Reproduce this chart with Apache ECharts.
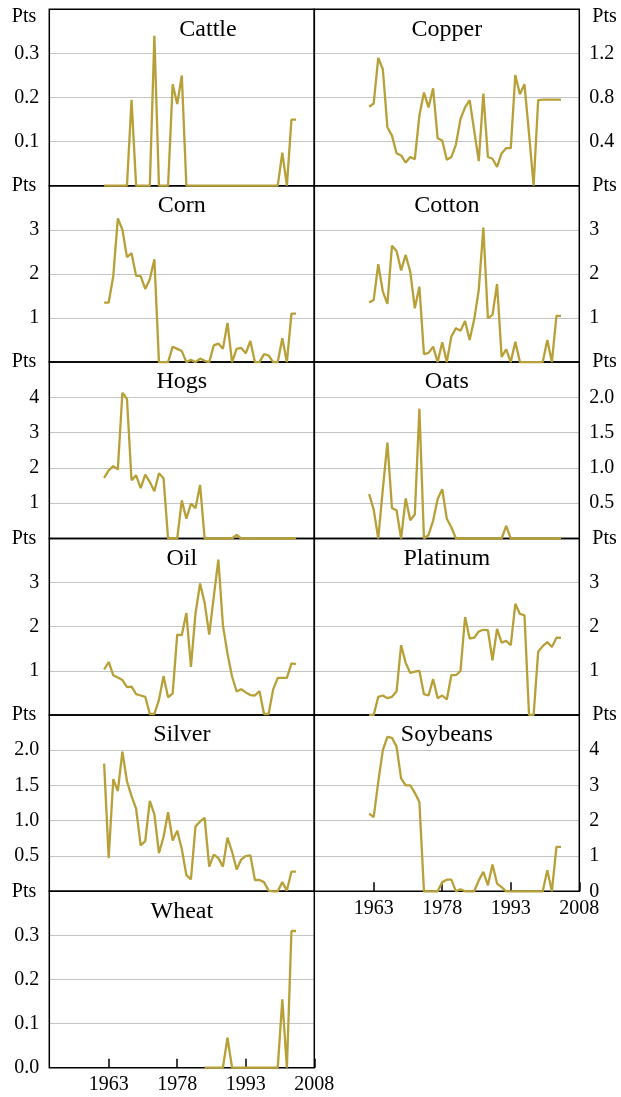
<!DOCTYPE html>
<html><head><meta charset="utf-8">
<script src="https://cdn.jsdelivr.net/npm/echarts@6/dist/echarts.min.js"></script>
<style>html,body{margin:0;padding:0;background:#fff}#c{width:621px;height:1097px}</style>
</head><body><div id="c"></div>
<script>
// ---- data ----
const years = [1962,1963,1964,1965,1966,1967,1968,1969,1970,1971,1972,1973,1974,1975,1976,1977,1978,1979,1980,1981,1982,1983,1984,1985,1986,1987,1988,1989,1990,1991,1992,1993,1994,1995,1996,1997,1998,1999,2000,2001,2002,2003,2004];
const xTicks = [1963, 1978, 1993, 2008];
const names = ['Cattle','Copper','Corn','Cotton','Hogs','Oats','Oil','Platinum','Silver','Soybeans','Wheat'];

const cattle = [0,0,0,0,0,0,0.195,0,0,0,0,0.34,0,0,0,0.23,0.185,0.25,0,0,0,0,0,0,0,0,0,0,0,0,0,0,0,0,0,0,0,0,0,0.075,0,0.15,0.15];
const copper = [0.716,0.746,1.16,1.056,0.53,0.454,0.295,0.274,0.21,0.26,0.24,0.635,0.845,0.71,0.884,0.43,0.41,0.235,0.26,0.373,0.605,0.71,0.776,0.5,0.223,0.836,0.26,0.244,0.17,0.295,0.34,0.34,1.005,0.83,0.92,0.47,0,0.776,0.78,0.78,0.78,0.78,0.78];
const corn = [1.35,1.35,1.95,3.26,3.0,2.38,2.47,1.96,1.95,1.66,1.88,2.33,0,0,0,0.35,0.3,0.25,0,0.05,0,0.08,0.03,0,0.38,0.42,0.3,0.89,0,0.3,0.32,0.2,0.48,0,0,0.18,0.15,0,0,0.54,0,1.1,1.1];
const cotton = [1.35,1.41,2.22,1.6,1.32,2.64,2.52,2.08,2.43,2.05,1.22,1.71,0.18,0.21,0.35,0,0.45,0,0.58,0.77,0.71,0.93,0.5,0.97,1.64,3.05,0.99,1.07,1.77,0.12,0.29,0,0.46,0,0,0,0,0,0,0.5,0,1.05,1.05];
const hogs = [1.72,1.93,2.05,1.96,4.13,3.95,1.65,1.79,1.43,1.81,1.6,1.34,1.85,1.71,0,0,0,1.08,0.56,0.99,0.86,1.52,0,0,0,0,0,0,0,0.1,0,0,0,0,0,0,0,0,0,0,0,0,0];
const oats = [0.63,0.41,0,0.7,1.36,0.43,0.4,0,0.57,0.26,0.34,1.84,0,0.05,0.25,0.56,0.7,0.28,0.16,0,0,0,0,0,0,0,0,0,0,0,0.18,0,0,0,0,0,0,0,0,0,0,0,0];
const oil = [1.03,1.2,0.9,0.85,0.79,0.63,0.64,0.47,0.44,0.41,0.02,0.02,0.34,0.88,0.4,0.49,1.82,1.81,2.31,1.09,2.3,2.98,2.54,1.82,2.68,3.52,2.03,1.39,0.87,0.53,0.58,0.51,0.45,0.44,0.54,0.02,0.02,0.58,0.84,0.84,0.84,1.17,1.15];
const platinum = [0,0,0.41,0.44,0.38,0.41,0.53,1.58,1.18,0.95,0.98,1.0,0.47,0.44,0.81,0.38,0.44,0.35,0.9,0.9,1.0,2.22,1.73,1.75,1.89,1.93,1.92,1.24,1.95,1.64,1.68,1.58,2.52,2.29,2.26,0,0,1.43,1.56,1.65,1.54,1.75,1.75];
const silver = [1.81,0.47,1.59,1.42,1.98,1.56,1.35,1.17,0.65,0.71,1.28,1.09,0.54,0.77,1.12,0.72,0.86,0.6,0.23,0.17,0.92,0.99,1.04,0.35,0.52,0.47,0.35,0.76,0.56,0.31,0.45,0.5,0.51,0.16,0.16,0.13,0.01,0,0,0.13,0.01,0.28,0.28];
const soybeans = [2.2,2.1,3.1,4.0,4.38,4.35,4.1,3.2,3.0,3.0,2.79,2.53,0,0,0,0,0.26,0.33,0.33,0,0.06,0,0,0,0.31,0.55,0.17,0.76,0.22,0.12,0,0,0,0,0,0,0,0,0,0.6,0,1.26,1.26];
const wheat = [null,null,null,null,null,null,null,null,null,null,null,null,null,null,null,null,null,null,null,null,null,null,0,0,0,0,0,0.068,0,0,0,0,0,0,0,0,0,0,0,0.155,0,0.31,0.31];

const seriesValues = [cattle, copper, corn, cotton, hogs, oats, oil, platinum, silver, soybeans, wheat];
const yMax = [0.4, 1.6, 4, 4, 5, 2.5, 4, 4, 2.5, 5, 0.4];
const yStep = [0.1, 0.4, 1, 1, 1, 0.5, 1, 1, 0.5, 1, 0.1];
const yDecimals = [1, 1, 0, 0, 0, 1, 0, 0, 1, 0, 1];

// ---- layout ----
const FONT = 'Liberation Serif';
const LINE = '#b8a038';
const colLeft = [49.3, 314.3];
const gridTop0 = 9.3, gridW = 265, gridH = 176.4;
const titleCenterOverride = { 0: 208 };
const bottomPanels = [9, 10];

const grids = [], xAxes = [], yAxes = [], series = [], graphics = [];

names.forEach((name, i) => {
  const col = i % 2, row = Math.floor(i / 2);
  const left = colLeft[col], top = gridTop0 + row * gridH;
  const isBottom = bottomPanels.indexOf(i) >= 0;
  const max = yMax[i], dec = yDecimals[i];
  grids.push({
    left: left, top: top, width: gridW, height: gridH,
    show: true, borderColor: '#000', borderWidth: 1.5, backgroundColor: 'transparent',
    z: 1, containLabel: false, outerBoundsMode: 'none'
  });
  xAxes.push({
    type: 'value', gridIndex: i, min: 1950, max: 2008,
    axisLine: { show: false }, splitLine: { show: false },
    axisTick: { show: isBottom, inside: true, length: 9, customValues: xTicks, lineStyle: { color: '#000', width: 1.5 } },
    axisLabel: { show: isBottom, customValues: xTicks, fontFamily: FONT, fontSize: 20, color: '#000', margin: 7,
      formatter: function (v) { return String(Math.round(v)); } }
  });
  const ptsKey = row === 0 ? 'pt' : 'p';
  const rich = {};
  rich.p = { fontFamily: FONT, fontSize: 20, color: '#000', padding: col === 0 ? [0, 3, 0, 0] : [0, 0, 0, 3] };
  rich.pt = { fontFamily: FONT, fontSize: 20, color: '#000', padding: col === 0 ? [14, 3, 0, 0] : [14, 0, 0, 3] };
  yAxes.push({
    type: 'value', gridIndex: i, position: col === 0 ? 'left' : 'right',
    min: 0, max: max, interval: yStep[i],
    axisLine: { show: false }, axisTick: { show: false },
    splitLine: { show: true, lineStyle: { color: '#c4c4c4', width: 1.2 } },
    axisLabel: {
      showMinLabel: isBottom, showMaxLabel: true,
      fontFamily: FONT, fontSize: 20, color: '#000', margin: 10,
      formatter: function (v) {
        if (Math.abs(v - max) < 1e-9) return '{' + ptsKey + '|Pts}';
        return Number(v).toFixed(dec);
      },
      rich: rich
    }
  });
  const vals = seriesValues[i];
  const data = [];
  years.forEach((y, k) => { if (vals[k] !== null) data.push([y, vals[k]]); });
  series.push({
    type: 'line', name: name, xAxisIndex: i, yAxisIndex: i, data: data,
    symbol: 'none', showSymbol: false, clip: false, silent: true,
    lineStyle: { color: LINE, width: 2.3 }, z: 2
  });
  const cx = titleCenterOverride[i] !== undefined ? titleCenterOverride[i] : left + gridW / 2;
  graphics.push({
    type: 'text', x: cx, y: top + 20, z: 10, silent: true,
    style: { text: name, fontFamily: FONT, fontSize: 24, fill: '#000', align: 'center', verticalAlign: 'middle' }
  });
});

const chart = echarts.init(document.getElementById('c'), null, { renderer: 'canvas' });
chart.setOption({
  animation: false,
  backgroundColor: '#fff',
  textStyle: { fontFamily: FONT },
  grid: grids, xAxis: xAxes, yAxis: yAxes, series: series,
  graphic: graphics
});
</script></body></html>
